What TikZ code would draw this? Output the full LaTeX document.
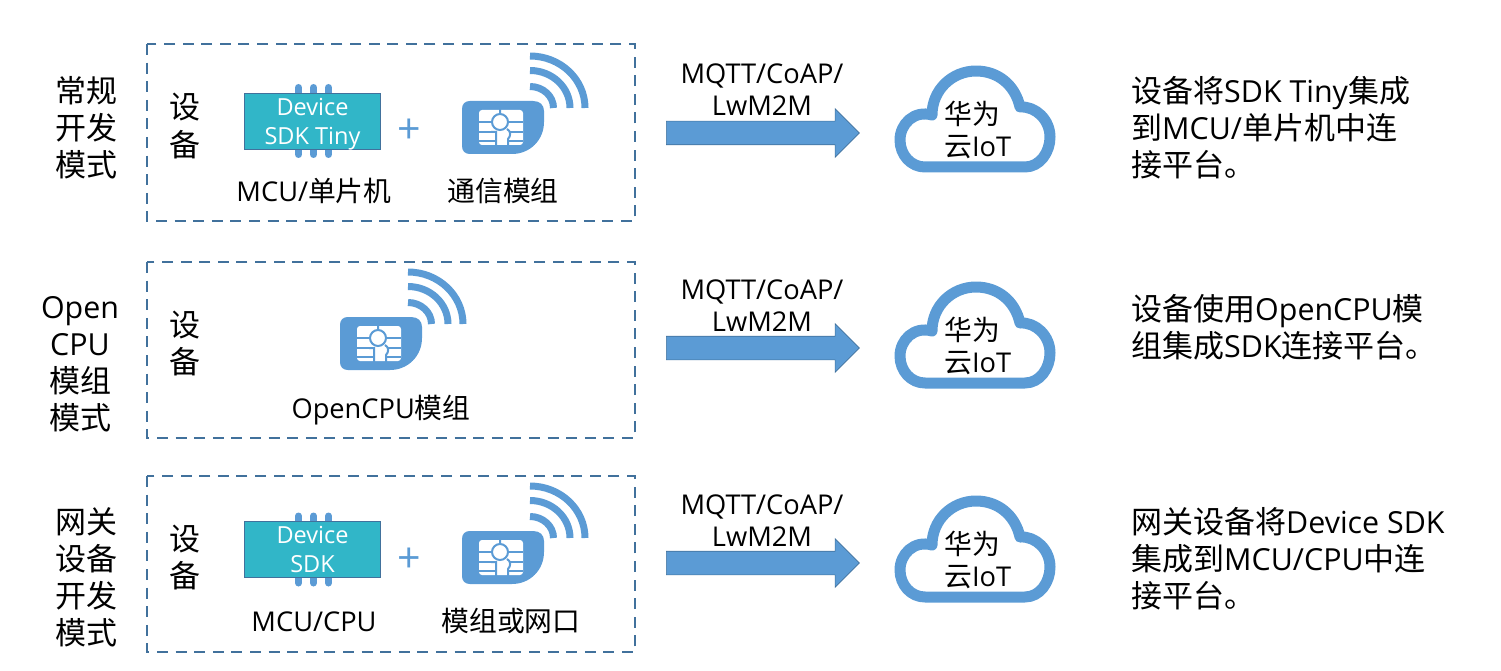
\documentclass[tikz,border=0pt]{standalone}
\usepackage{fontspec}
\setmainfont[Scale=0.98]{Open Sans}
\newfontfamily\cjk{Noto Sans CJK SC}
\usepackage{xcolor}
\usetikzlibrary{positioning}
\usetikzlibrary{shapes.arrows}
\definecolor{iotblue}{HTML}{5B9BD5}
\definecolor{iotedge}{HTML}{41719C}
\definecolor{iotchip}{HTML}{31B6C8}
\tikzset{
    modebox/.style={draw=iotedge,line width=2.8pt,dash pattern=on 11pt off 7.6pt},
    chipbox/.style={draw=iotedge,line width=1.2pt,fill=iotchip,minimum width=136pt,minimum height=56pt,inner sep=0pt,text=white,align=center,font=\fontsize{24}{29}\selectfont},
    chippin/.style={line width=7pt,line cap=round,draw=iotblue},
    flowarrow/.style={single arrow,draw=iotedge,line width=0.6pt,fill=iotblue,minimum width=48pt,minimum height=193pt,single arrow head extend=12.5pt,single arrow tip angle=90,inner xsep=0pt,inner ysep=11.5pt},
    bigtext/.style={font=\fontsize{31}{37}\selectfont,align=center,inner sep=0pt},
    midtext/.style={font=\fontsize{27.8}{32}\selectfont,align=center,inner sep=0pt},
    cloudtext/.style={font=\fontsize{27.8}{32}\selectfont,align=left,inner sep=0pt,anchor=west},
    notetext/.style={font=\fontsize{31}{37}\selectfont,align=left,inner sep=0pt,anchor=west},
    plustext/.style={font=\fontsize{42}{42}\selectfont,text=iotblue,inner sep=0pt},
    pics/simcard/.style={code={
        \fill[iotblue] (470,101) -- (533,101) .. controls (540,101) and (544,105) .. (544,111) -- (544,122) .. controls (544,140) and (530,154) .. (512,154) -- (470,154) .. controls (465,154) and (462,151) .. (462,146) -- (462,109) .. controls (462,104) and (465,101) .. (470,101) -- cycle;
        \fill[white,rounded corners=3pt] (479,110) rectangle (523,145);
        \draw[iotblue,line width=2pt] (479,122) -- (493,122) (508,122) -- (523,122) (479,132) -- (491,132) (510,132) -- (523,132) (479,141) -- (496,141) (508,141) -- (523,141);
        \draw[iotblue,line width=2pt] (500,109) -- (500,114) (491,132) -- (496,132) -- (496,146) (507,129) .. controls (511,131) and (511,136) .. (508,139) -- (508,146);
        \draw[iotblue,line width=2pt] (500,122) circle[radius=8];
    }},
    pics/waves/.style={code={
        \draw[iotblue,line width=7pt] (530,56) arc[start angle=-90,end angle=0,x radius=55,y radius=52];
        \draw[iotblue,line width=7pt] (530,70.5) arc[start angle=-90,end angle=0,x radius=40,y radius=37.5];
        \draw[iotblue,line width=7pt] (530,86.5) arc[start angle=-90,end angle=0,x radius=23.5,y radius=21.5];
    }},
    pics/iotcloud/.style={code={
        \draw[iotblue,line width=11pt,line join=round] (925,167) -- (1025,167) .. controls (1040,167) and (1050,152) .. (1050,137) .. controls (1050,120) and (1036,106) .. (1020,107) .. controls (1015,85) and (998,71) .. (976,71) .. controls (952,71) and (932,90) .. (932,115) .. controls (914,110) and (900,124) .. (900,140) .. controls (900,155) and (911,167) .. (925,167) -- cycle;
    }},
}
\begin{document}
\begin{tikzpicture}[x=1pt,y=-1pt]
    \useasboundingbox (0,0) rectangle (1501,671);

    % first row
    \node [bigtext] (mode1) at (86,128) {{\cjk 常规}\\{\cjk 开发}\\{\cjk 模式}};
    \draw [modebox] (147,44) rectangle (635,221);
    \node [bigtext] (dev1) at (185,126) {{\cjk 设}\\{\cjk 备}};
    \draw [chippin] (298.5,87.5) -- (298.5,154.5) (313.5,87.5) -- (313.5,154.5) (328.5,87.5) -- (328.5,154.5);
    \node [chipbox] (chip1) at (312.5,121.5) {Device\\SDK Tin\smash{y}};
    \node [plustext] (plus1) at (409,131) {+};
    \pic {simcard};
    \pic {waves};
    \node [midtext] (mcu1) at (314,191) {MCU/{\cjk 单片机}};
    \node [midtext] (sim1) at (503,191) {{\cjk 通信模组}};
    \node [midtext] (proto1) at (762,90) {MQTT/CoAP/\\LwM2M};
    \node [flowarrow] (arrow1) at (757,133) {};
    \pic {iotcloud};
    \node [cloudtext] (iot1) at (944,130) {{\cjk 华为}\\{\cjk 云}IoT};
    \node [notetext] (note1) at (1131,128) {{\cjk 设备将}SDK Tiny{\cjk 集成}\\{\cjk 到}MCU/{\cjk 单片机中连}\\{\cjk 接平台。}};

    % second row
    \node [bigtext] (mode2) at (80,364) {Open\\CPU\\{\cjk 模组}\\{\cjk 模式}};
    \draw [modebox] (147,262) rectangle (635,438);
    \node [bigtext] (dev2) at (185,343) {{\cjk 设}\\{\cjk 备}};
    \begin{scope}[shift={(-122,216)}]
        \pic {simcard};
        \pic {waves};
    \end{scope}
    \node [midtext] (sim2) at (381,410) {OpenCPU{\cjk 模组}};
    \node [midtext] (proto2) at (762,306) {MQTT/CoAP/\\LwM2M};
    \node [flowarrow] (arrow2) at (757,348) {};
    \begin{scope}[shift={(0,216)}]
        \pic {iotcloud};
    \end{scope}
    \node [cloudtext] (iot2) at (944,346) {{\cjk 华为}\\{\cjk 云}IoT};
    \node [notetext] (note2) at (1131,327) {{\cjk 设备使用}OpenCPU{\cjk 模}\\{\cjk 组集成}SDK{\cjk 连接平台。}};

    % third row
    \node [bigtext] (mode3) at (86,577) {{\cjk 网关}\\{\cjk 设备}\\{\cjk 开发}\\{\cjk 模式}};
    \draw [modebox] (147,476) rectangle (635,652);
    \node [bigtext] (dev3) at (185,557) {{\cjk 设}\\{\cjk 备}};
    \draw [chippin] (298.5,516) -- (298.5,583) (313.5,516) -- (313.5,583) (328.5,516) -- (328.5,583);
    \node [chipbox] (chip3) at (312.5,549.5) {Device\\SDK};
    \node [plustext] (plus3) at (409,560) {+};
    \begin{scope}[shift={(0,430)}]
        \pic {simcard};
        \pic {waves};
    \end{scope}
    \node [midtext] (mcu3) at (314,622) {MCU/CPU};
    \node [midtext] (sim3) at (511,621) {{\cjk 模组或网口}};
    \node [midtext] (proto3) at (762,521) {MQTT/CoAP/\\LwM2M};
    \node [flowarrow] (arrow3) at (757,563) {};
    \begin{scope}[shift={(0,430)}]
        \pic {iotcloud};
    \end{scope}
    \node [cloudtext] (iot3) at (944,560) {{\cjk 华为}\\{\cjk 云}IoT};
    \node [notetext] (note3) at (1131,559) {{\cjk 网关设备将}Device SDK\\{\cjk 集成到}MCU/CPU{\cjk 中连}\\{\cjk 接平台。}};
\end{tikzpicture}
\end{document}
